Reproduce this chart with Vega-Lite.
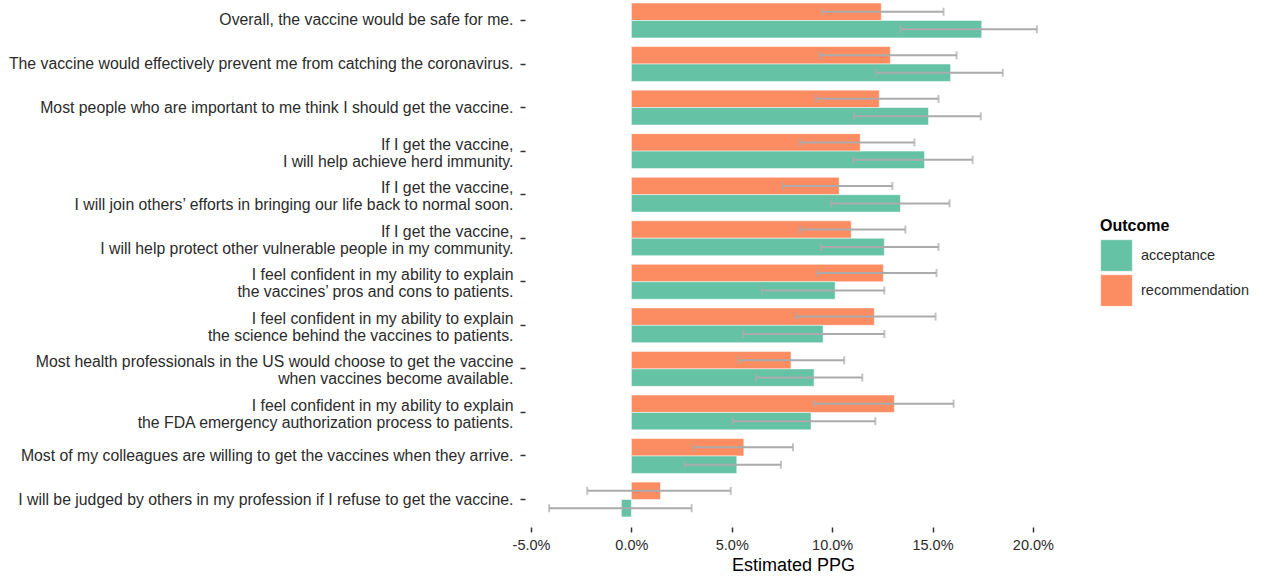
{
  "$schema": "https://vega.github.io/schema/vega-lite/v6.json",
  "width": 536,
  "height": 520,
  "padding": {"left": 8, "top": 0, "right": 5, "bottom": 5},
  "background": "white",
  "config": {
    "view": {"stroke": null},
    "font": "Liberation Sans",
    "axis": {"grid": false, "domain": false, "labelColor": "#2b2b2b", "tickColor": "#333333"}
  },
  "data": {
    "values": [
      {"item": "Overall, the vaccine would be safe for me.", "outcome": "recommendation", "est": 0.1245, "lo": 0.095, "hi": 0.1555},
      {"item": "Overall, the vaccine would be safe for me.", "outcome": "acceptance", "est": 0.1745, "lo": 0.134, "hi": 0.202},
      {"item": "The vaccine would effectively prevent me from catching the coronavirus.", "outcome": "recommendation", "est": 0.129, "lo": 0.094, "hi": 0.162},
      {"item": "The vaccine would effectively prevent me from catching the coronavirus.", "outcome": "acceptance", "est": 0.159, "lo": 0.122, "hi": 0.185},
      {"item": "Most people who are important to me think I should get the vaccine.", "outcome": "recommendation", "est": 0.1235, "lo": 0.092, "hi": 0.153},
      {"item": "Most people who are important to me think I should get the vaccine.", "outcome": "acceptance", "est": 0.148, "lo": 0.111, "hi": 0.174},
      {"item": "If I get the vaccine,\nI will help achieve herd immunity.", "outcome": "recommendation", "est": 0.114, "lo": 0.084, "hi": 0.141},
      {"item": "If I get the vaccine,\nI will help achieve herd immunity.", "outcome": "acceptance", "est": 0.146, "lo": 0.1105, "hi": 0.17},
      {"item": "If I get the vaccine,\nI will join others’ efforts in bringing our life back to normal soon.", "outcome": "recommendation", "est": 0.1035, "lo": 0.0755, "hi": 0.13},
      {"item": "If I get the vaccine,\nI will join others’ efforts in bringing our life back to normal soon.", "outcome": "acceptance", "est": 0.134, "lo": 0.0995, "hi": 0.1585},
      {"item": "If I get the vaccine,\nI will help protect other vulnerable people in my community.", "outcome": "recommendation", "est": 0.1095, "lo": 0.084, "hi": 0.1365},
      {"item": "If I get the vaccine,\nI will help protect other vulnerable people in my community.", "outcome": "acceptance", "est": 0.126, "lo": 0.0945, "hi": 0.153},
      {"item": "I feel confident in my ability to explain\nthe vaccines’ pros and cons to patients.", "outcome": "recommendation", "est": 0.1255, "lo": 0.0925, "hi": 0.152},
      {"item": "I feel confident in my ability to explain\nthe vaccines’ pros and cons to patients.", "outcome": "acceptance", "est": 0.1015, "lo": 0.065, "hi": 0.126},
      {"item": "I feel confident in my ability to explain\nthe science behind the vaccines to patients.", "outcome": "recommendation", "est": 0.121, "lo": 0.082, "hi": 0.1515},
      {"item": "I feel confident in my ability to explain\nthe science behind the vaccines to patients.", "outcome": "acceptance", "est": 0.0955, "lo": 0.0555, "hi": 0.126},
      {"item": "Most health professionals in the US would choose to get the vaccine\nwhen vaccines become available.", "outcome": "recommendation", "est": 0.0795, "lo": 0.0535, "hi": 0.106},
      {"item": "Most health professionals in the US would choose to get the vaccine\nwhen vaccines become available.", "outcome": "acceptance", "est": 0.091, "lo": 0.062, "hi": 0.115},
      {"item": "I feel confident in my ability to explain\nthe FDA emergency authorization process to patients.", "outcome": "recommendation", "est": 0.131, "lo": 0.091, "hi": 0.1605},
      {"item": "I feel confident in my ability to explain\nthe FDA emergency authorization process to patients.", "outcome": "acceptance", "est": 0.0895, "lo": 0.0505, "hi": 0.1215},
      {"item": "Most of my colleagues are willing to get the vaccines when they arrive.", "outcome": "recommendation", "est": 0.056, "lo": 0.031, "hi": 0.0805},
      {"item": "Most of my colleagues are willing to get the vaccines when they arrive.", "outcome": "acceptance", "est": 0.0525, "lo": 0.0265, "hi": 0.0745},
      {"item": "I will be judged by others in my profession if I refuse to get the vaccine.", "outcome": "recommendation", "est": 0.0145, "lo": -0.022, "hi": 0.0495},
      {"item": "I will be judged by others in my profession if I refuse to get the vaccine.", "outcome": "acceptance", "est": -0.005, "lo": -0.041, "hi": 0.03}
    ]
  },
  "encoding": {
    "y": {
      "field": "item",
      "type": "nominal",
      "sort": null,
      "scale": {"paddingInner": 0.2, "paddingOuter": 0.07},
      "axis": {
        "title": null,
        "labelFontSize": 15.8,
        "labelLimit": 1000,
        "labelLineHeight": 17,
        "labelPadding": 7,
        "labelOffset": {"condition": {"test": "indexof(datum.value, '\\n') >= 0", "value": -6.5}, "value": 0},
        "tickSize": 5,
        "tickWidth": 1.5,
        "labelExpr": "split(datum.value, '\\n')"
      }
    },
    "yOffset": {"field": "outcome", "type": "nominal", "sort": ["recommendation", "acceptance"]}
  },
  "layer": [
    {
      "mark": {"type": "bar", "stroke": "white", "strokeWidth": 0.5},
      "encoding": {
        "x": {
          "field": "est",
          "type": "quantitative",
          "scale": {"domain": [-0.053, 0.214], "nice": false, "zero": false},
          "axis": {
            "title": "Estimated PPG",
            "titleFontSize": 18,
            "titleFontWeight": "normal",
            "titleColor": "black",
            "titlePadding": 5,
            "format": ".1%",
            "labelExpr": "replace(datum.label, '−', '-')",
            "values": [-0.05, 0, 0.05, 0.1, 0.15, 0.2],
            "labelFontSize": 14.5,
            "labelPadding": 6,
            "tickSize": 5,
            "tickWidth": 1.5,
            "offset": 7
          }
        },
        "color": {
          "field": "outcome",
          "type": "nominal",
          "scale": {"domain": ["acceptance", "recommendation"], "range": ["#66c2a5", "#fc8d62"]},
          "legend": {
            "title": "Outcome",
            "orient": "none",
            "legendX": 575,
            "legendY": 218,
            "symbolType": "square",
            "symbolSize": 1000,
            "symbolStrokeWidth": 0.5,
            "symbolStrokeColor": "white",
            "symbolOpacity": 1,
            "rowPadding": 0,
            "labelFontSize": 14.5,
            "labelColor": "#2b2b2b",
            "labelOffset": 8,
            "titleFontSize": 16,
            "titleFontWeight": "bold",
            "titleColor": "black",
            "titlePadding": 5
          }
        }
      }
    },
    {
      "mark": {"type": "rule", "color": "#ababab", "strokeWidth": 2},
      "encoding": {
        "x": {"field": "lo", "type": "quantitative"},
        "x2": {"field": "hi"}
      }
    },
    {
      "mark": {"type": "tick", "color": "#ababab", "thickness": 2, "size": 8},
      "encoding": {"x": {"field": "lo", "type": "quantitative"}}
    },
    {
      "mark": {"type": "tick", "color": "#ababab", "thickness": 2, "size": 8},
      "encoding": {"x": {"field": "hi", "type": "quantitative"}}
    }
  ]
}
